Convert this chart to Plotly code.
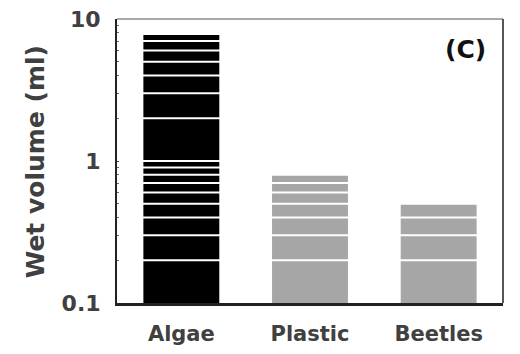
import numpy as np
import plotly.graph_objects as go

# Wet volume per material (ml)
categories = ["Algae", "Plastic", "Beetles"]
wet_volume = [7.7, 0.8, 0.5]
bar_colors = ["#000000", "#a6a6a6", "#a6a6a6"]
y_tick_vals = [0.1, 1, 10]
y_tick_text = ["0.1", "1", "10"]

TEXT = "#404040"
FONT = "DejaVu Sans"

fig = go.Figure(
    go.Bar(
        x=categories,
        y=wet_volume,
        marker=dict(color=bar_colors, line=dict(width=0)),
        showlegend=False,
    )
)

# white log-scale grid drawn over the bars
grid_vals = [k * 10.0 ** e for e in (-1, 0) for k in range(2, 10)] + [1.0]
for gv in grid_vals:
    fig.add_shape(
        type="line", xref="paper", yref="y",
        x0=0.005, x1=0.995, y0=gv, y1=gv,
        line=dict(color="white", width=2), layer="above",
    )

# light frame on the top and right edges
fig.add_shape(type="line", xref="paper", yref="paper", x0=0, x1=1, y0=1, y1=1,
              line=dict(color="#8c8c8c", width=1.5))
fig.add_shape(type="line", xref="paper", yref="paper", x0=1, x1=1, y0=0, y1=1,
              line=dict(color="#555555", width=2))

fig.add_annotation(
    text="Wet volume (ml)", xref="paper", yref="paper",
    x=-0.212, y=0.496, xanchor="center", yanchor="middle",
    textangle=-90, showarrow=False,
    font=dict(family=FONT, size=25, color=TEXT, weight="bold"),
)
fig.add_annotation(
    text="(C)", xref="paper", yref="paper",
    x=0.9016, y=0.891, xanchor="center", yanchor="middle",
    showarrow=False,
    font=dict(family=FONT, size=25, color="#111111", weight="bold"),
)

fig.update_layout(
    width=520, height=354,
    margin=dict(l=117, r=17, t=19, b=51),
    paper_bgcolor="white", plot_bgcolor="white",
    bargap=0.41,
    xaxis=dict(
        showline=True, linecolor="#222222", linewidth=2.5,
        ticks="", showgrid=False, automargin=False,
        tickfont=dict(family=FONT, size=21, color=TEXT, weight="bold"),
        ticklabelstandoff=10,
    ),
    yaxis=dict(
        type="log", range=[-1, 1], automargin=False,
        showline=True, linecolor="#222222", linewidth=2,
        showgrid=False, zeroline=False,
        tickvals=y_tick_vals, ticktext=y_tick_text,
        ticks="inside", ticklen=4, tickcolor="#444444",
        minor=dict(ticks="inside", ticklen=3, tickcolor="#666666",
                   tickvals=grid_vals, showgrid=False),
        tickfont=dict(family=FONT, size=22, color=TEXT, weight="bold"),
        ticklabelstandoff=10,
    ),
)

fig.write_html("out.html")
